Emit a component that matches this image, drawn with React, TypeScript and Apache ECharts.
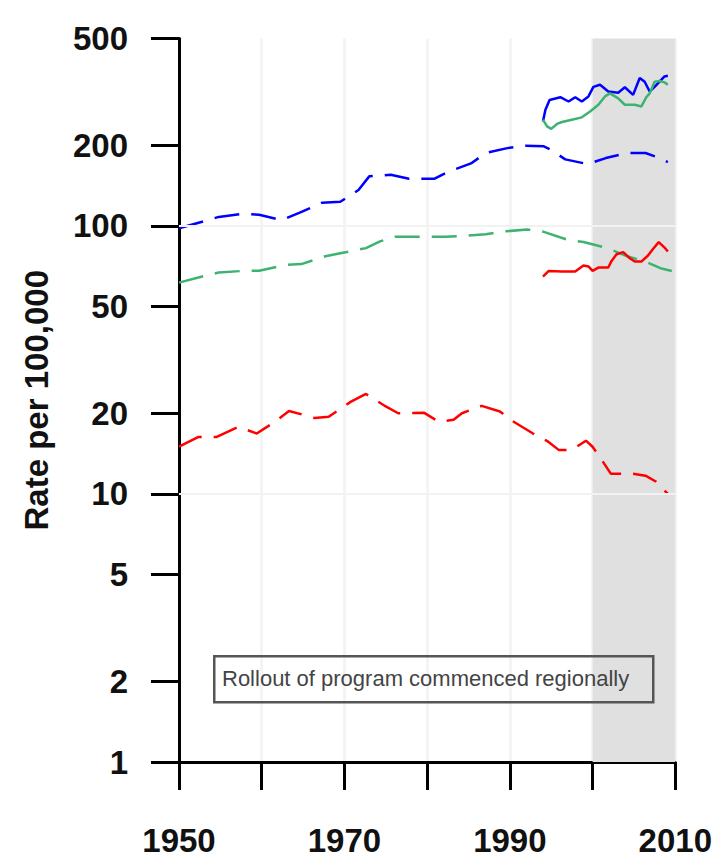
import React, { useEffect, useRef } from "react";
import * as echarts from "echarts";

// ---- Data ----
const xTickYears = [1950, 1970, 1990, 2010];
const yTickValues = [1, 2, 5, 10, 20, 50, 100, 200, 500];

// Long-term (dashed) series
const trendBlueYears = [1950, 1953, 1954.8, 1957.8, 1959.7, 1962.4, 1964.6, 1967.3, 1969.5, 1971.7, 1973, 1975.6, 1977.8, 1980.9, 1982.5, 1985.3, 1987.1, 1989.7, 1991.9, 1994.1, 1995, 1996.7, 1999.4, 2001.6, 2004.2, 2006.4, 2007.7, 2009.1];
const trendBlueValues = [98, 104, 108, 111, 110, 105, 112, 122, 123, 136, 153, 155, 150, 150, 159, 171, 187, 195, 199, 198, 192, 177, 170, 179, 187, 187, 181, 173];

const trendGreenYears = [1950, 1953, 1954.8, 1958, 1959.7, 1962.9, 1964.8, 1967.7, 1969.5, 1972.6, 1974.3, 1976.1, 1979.6, 1982.2, 1987.1, 1988.8, 1992.1, 1994.1, 1997, 1998.9, 2001.8, 2004.2, 2006.4, 2008.2, 2009.9];
const trendGreenValues = [61.4, 65, 67, 68, 68, 71.5, 72, 77, 79, 82.6, 87.5, 91, 91, 91, 93, 95, 97, 95, 88.7, 87, 82.6, 77, 73.6, 69.5, 67.5];

const trendRedYears = [1950, 1952.3, 1954.5, 1957.2, 1959.4, 1961.6, 1963.3, 1966.4, 1968.1, 1970.8, 1972.6, 1975, 1976.5, 1979.6, 1981.4, 1983.2, 1984.2, 1986.6, 1988.8, 1990.2, 1992.8, 1994.6, 1995.9, 1997.5, 1999.2, 2000, 2001.1, 2002.2, 2004.9, 2006.4, 2007.7, 2009.1];
const trendRedValues = [15.0, 16.3, 16.3, 17.8, 16.8, 18.6, 20.4, 19.2, 19.4, 22.1, 23.6, 21.2, 20.0, 20.1, 18.6, 18.9, 20.0, 21.3, 20.3, 18.8, 16.8, 15.7, 14.6, 14.6, 15.8, 15.0, 13.4, 11.9, 11.9, 11.7, 11.1, 10.0];

// Recent (solid) series
const recentBlueYears = [1994.0, 1994.3, 1994.8, 1996.1, 1997.1, 1997.9, 1998.7, 1999.5, 2000.1, 2000.9, 2001.9, 2003.1, 2003.9, 2004.9, 2005.7, 2006.3, 2006.9, 2007.5, 2008.7, 2009.1];
const recentBlueValues = [245, 271, 295, 302, 291, 302, 291, 304, 330, 336, 317, 314, 329, 308, 356, 345, 317, 330, 361, 363];

const recentGreenYears = [1994.0, 1994.5, 1995.0, 1995.7, 1996.3, 1997.5, 1998.7, 1999.7, 2000.7, 2001.5, 2002.1, 2003.1, 2003.9, 2005.1, 2005.9, 2006.5, 2006.9, 2007.5, 2008.1, 2008.7, 2009.1];
const recentGreenValues = [249, 235, 230, 240, 244, 249, 254, 267, 283, 304, 312, 299, 283, 283, 279, 302, 312, 345, 347, 343, 336];

const recentRedYears = [1994.0, 1994.7, 1996.3, 1997.9, 1998.9, 1999.5, 2000.0, 2000.7, 2001.9, 2002.3, 2002.9, 2003.7, 2004.5, 2005.1, 2005.9, 2006.7, 2007.3, 2008.0, 2008.7, 2009.1];
const recentRedValues = [64.7, 67.9, 67.6, 67.6, 71.1, 70.6, 67.9, 69.9, 69.9, 74, 78.4, 79.8, 75.7, 73.6, 73.6, 77.5, 82, 87, 83, 80.2];

const rolloutStart = 2000;
const rolloutEnd = 2010;
const gridValues = [10, 100];
const annotationText = "Rollout of program commenced regionally";
const yAxisTitle = "Rate per 100,000";

const BLUE = "#0000ff";
const GREEN = "#3cb371";
const RED = "#ff0000";
const FONT = "'Liberation Sans', Arial, Helvetica, sans-serif";

const pairs = (xs: number[], ys: number[]) => xs.map((x, i) => [x, ys[i]]);

export default function App() {
  const ref = useRef<HTMLDivElement>(null);

  useEffect(() => {
    if (!ref.current) return;
    const chart = echarts.init(ref.current, null, { renderer: "svg" });

    const dashed = (name: string, color: string, xs: number[], ys: number[]) => ({
      name,
      type: "line",
      data: pairs(xs, ys),
      showSymbol: false,
      symbol: "none",
      smooth: false,
      z: 3,
      lineStyle: { color, width: 2.5, type: [25, 12] },
    });
    const solid = (name: string, color: string, xs: number[], ys: number[]) => ({
      name,
      type: "line",
      data: pairs(xs, ys),
      showSymbol: false,
      symbol: "none",
      z: 4,
      lineStyle: { color, width: 2.5, type: "solid" },
    });

    const option: any = {
      animation: false,
      backgroundColor: "#ffffff",
      grid: { left: 179, right: 38, top: 38.5, bottom: 97, containLabel: false },
      xAxis: {
        type: "value",
        min: 1950,
        max: 2010,
        interval: 10,
        axisLine: { show: true, onZero: false, lineStyle: { color: "#000", width: 3 } },
        axisTick: { show: true, length: 28, lineStyle: { color: "#000", width: 3 } },
        axisLabel: {
          margin: 62,
          fontSize: 33,
          fontWeight: "bold",
          fontFamily: FONT,
          color: "#111",
          formatter: (v: number) => (xTickYears.includes(v) ? String(v) : ""),
        },
        splitLine: { show: true, lineStyle: { color: "#f4f4f4", width: 3 } },
      },
      yAxis: {
        type: "log",
        logBase: 10,
        min: 1,
        max: 500,
        name: yAxisTitle,
        nameLocation: "middle",
        nameGap: 126,
        nameTextStyle: { fontSize: 33, fontWeight: "bold", fontFamily: FONT, color: "#111" },
        axisLine: { show: true, lineStyle: { color: "#000", width: 3 } },
        axisTick: { show: true, length: 28, customValues: yTickValues, lineStyle: { color: "#000", width: 3 } },
        axisLabel: {
          margin: 51,
          fontSize: 33,
          fontWeight: "bold",
          fontFamily: FONT,
          color: "#111",
          customValues: yTickValues,
          formatter: (v: number) => String(Math.round(v)),
        },
        splitLine: { show: false },
      },
      series: [
        {
          name: "shade",
          type: "line",
          data: [],
          z: 1,
          markArea: {
            silent: true,
            itemStyle: { color: "#e0e0e0" },
            data: [[{ xAxis: rolloutStart }, { xAxis: rolloutEnd }]],
          },
          markLine: {
            silent: true,
            symbol: "none",
            label: { show: false },
            lineStyle: { color: "#f2f2f2", width: 2, type: "solid" },
            data: gridValues.map((v) => ({ yAxis: v })),
          },
        },
        dashed("Blue long-term", BLUE, trendBlueYears, trendBlueValues),
        dashed("Green long-term", GREEN, trendGreenYears, trendGreenValues),
        dashed("Red long-term", RED, trendRedYears, trendRedValues),
        solid("Blue recent", BLUE, recentBlueYears, recentBlueValues),
        solid("Green recent", GREEN, recentGreenYears, recentGreenValues),
        solid("Red recent", RED, recentRedYears, recentRedValues),
      ],
      graphic: [
        {
          type: "rect",
          left: 213,
          top: 655,
          shape: { width: 439, height: 46 },
          style: { fill: "transparent", stroke: "#555", lineWidth: 2.5 },
          z: 10,
        },
        {
          type: "text",
          x: 222,
          y: 678,
          z: 11,
          style: {
            text: annotationText,
            fontSize: 22,
            fontFamily: FONT,
            fill: "#444",
            verticalAlign: "middle",
            align: "left",
          },
        },
      ],
    };

    chart.setOption(option);
    return () => chart.dispose();
  }, []);

  return (
    <div
      ref={ref}
      style={{ position: "fixed", left: 0, top: 0, width: 715, height: 859, background: "#fff" }}
    />
  );
}
